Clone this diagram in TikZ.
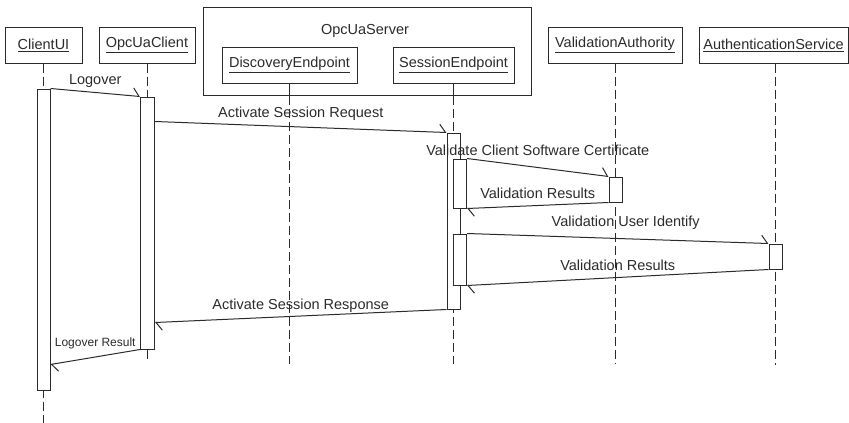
\documentclass[tikz,border=0pt]{standalone}
\usepackage{fontspec}
\setmainfont{Liberation Sans}
\usetikzlibrary{arrows.meta,calc}
\definecolor{ink}{HTML}{2b2b2b}

\begin{document}
\begin{tikzpicture}[x=1pt, y=-1pt, every node/.style={font=\fontsize{14.5}{17}\selectfont, text=ink, align=center},
  obj/.style={draw=ink, line width=1pt, minimum height=36pt, inner sep=0pt},
  life/.style={draw=ink, line width=1pt, dash pattern=on 9pt off 4pt},
  bar/.style={draw=ink, fill=white, line width=1pt, minimum width=13pt, inner sep=0pt},
  msg/.style={draw=ink, line width=1pt, -{Straight Barb[left, length=6pt, width=16pt]}}]
\useasboundingbox (0,0) rectangle (849,423);
% server group
\node[draw=ink, line width=1pt, minimum width=328pt, minimum height=88pt, inner sep=0pt] (srv) at (367,51) {};
\node (srvtitle) at (365,31) {OpcUaServer};
% objects
\node[obj, minimum width=77pt] (ui) at (43.5,45) {\underline{ClientUI}};
\node[obj, minimum width=96pt] (cl) at (147,45) {\underline{OpcUaClient}};
\node[obj, minimum width=135pt] (de) at (289.5,65) {\underline{DiscoveryEndpoint}};
\node[obj, minimum width=121pt] (se) at (453.5,65) {\underline{SessionEndpoint}};
\node[obj, minimum width=134pt] (va) at (615,45) {\underline{ValidationAuthority}};
\node[obj, minimum width=149pt] (as) at (773.5,45) {\underline{AuthenticationService}};
% lifelines
\coordinate (uiEnd) at (43.5,423);
\coordinate (clEnd) at (147,360);
\coordinate (deEnd) at (289.5,364);
\coordinate (seEnd) at (453.5,364);
\coordinate (vaEnd) at (615,363);
\coordinate (asEnd) at (775.5,365);
\draw[life] (ui.south) -- (uiEnd);
\draw[life] (cl.south) -- (clEnd);
\draw[draw=ink, line width=1pt] (de.south) -- (de.south |- srv.south);
\draw[life] (de.south |- srv.south) -- (deEnd);
\draw[draw=ink, line width=1pt] (se.south) -- (se.south |- srv.south);
\draw[life] (se.south |- srv.south) -- (seEnd);
\draw[life] (va.south) -- (vaEnd);
\draw[life] (as.south -| asEnd) -- (asEnd);
% activations
\node[bar, minimum height=301pt] (barUI) at (43.5,239.5) {};
\node[bar, minimum width=14pt, minimum height=252pt] (barCl) at (147.5,223) {};
\node[bar, minimum height=176pt] (barSE) at (453.5,221) {};
\node[bar, minimum height=49pt] (nestA) at (460,183.5) {};
\node[bar, minimum height=51pt] (nestB) at (460,259.5) {};
\node[bar, minimum height=25pt] (barVA) at (615.5,189.5) {};
\node[bar, minimum height=25pt] (barAS) at (775.5,256.5) {};
% messages
\draw[msg] (barUI.north east) -- node[above=1pt] {Logover} (barCl.north west);
\draw[msg] ($(barCl.north east)+(0,25)$) -- node[above=3pt] {Activate Session Request} (barSE.north west);
\draw[msg] (nestA.north east) -- node[above=8pt] {Validate Client Software Certificate} (barVA.north west);
\draw[msg] (barVA.south west) -- node[above=3pt] {Validation Results} (nestA.south east);
\draw[msg] (nestB.north east) -- node[above=5pt, xshift=8pt] {Validation User Identify} (barAS.north west);
\draw[msg] (barAS.south west) -- node[above=3pt] {Validation Results} (nestB.south east);
\draw[msg] (barSE.south west) -- node[above] {Activate Session Response} ($(barCl.north east)+(0,226)$);
\draw[msg] (barCl.south west) -- node[above=4pt, font=\fontsize{12}{14}\selectfont] {Logover Result} ($(barUI.north east)+(0,276)$);
\end{tikzpicture}
\end{document}
